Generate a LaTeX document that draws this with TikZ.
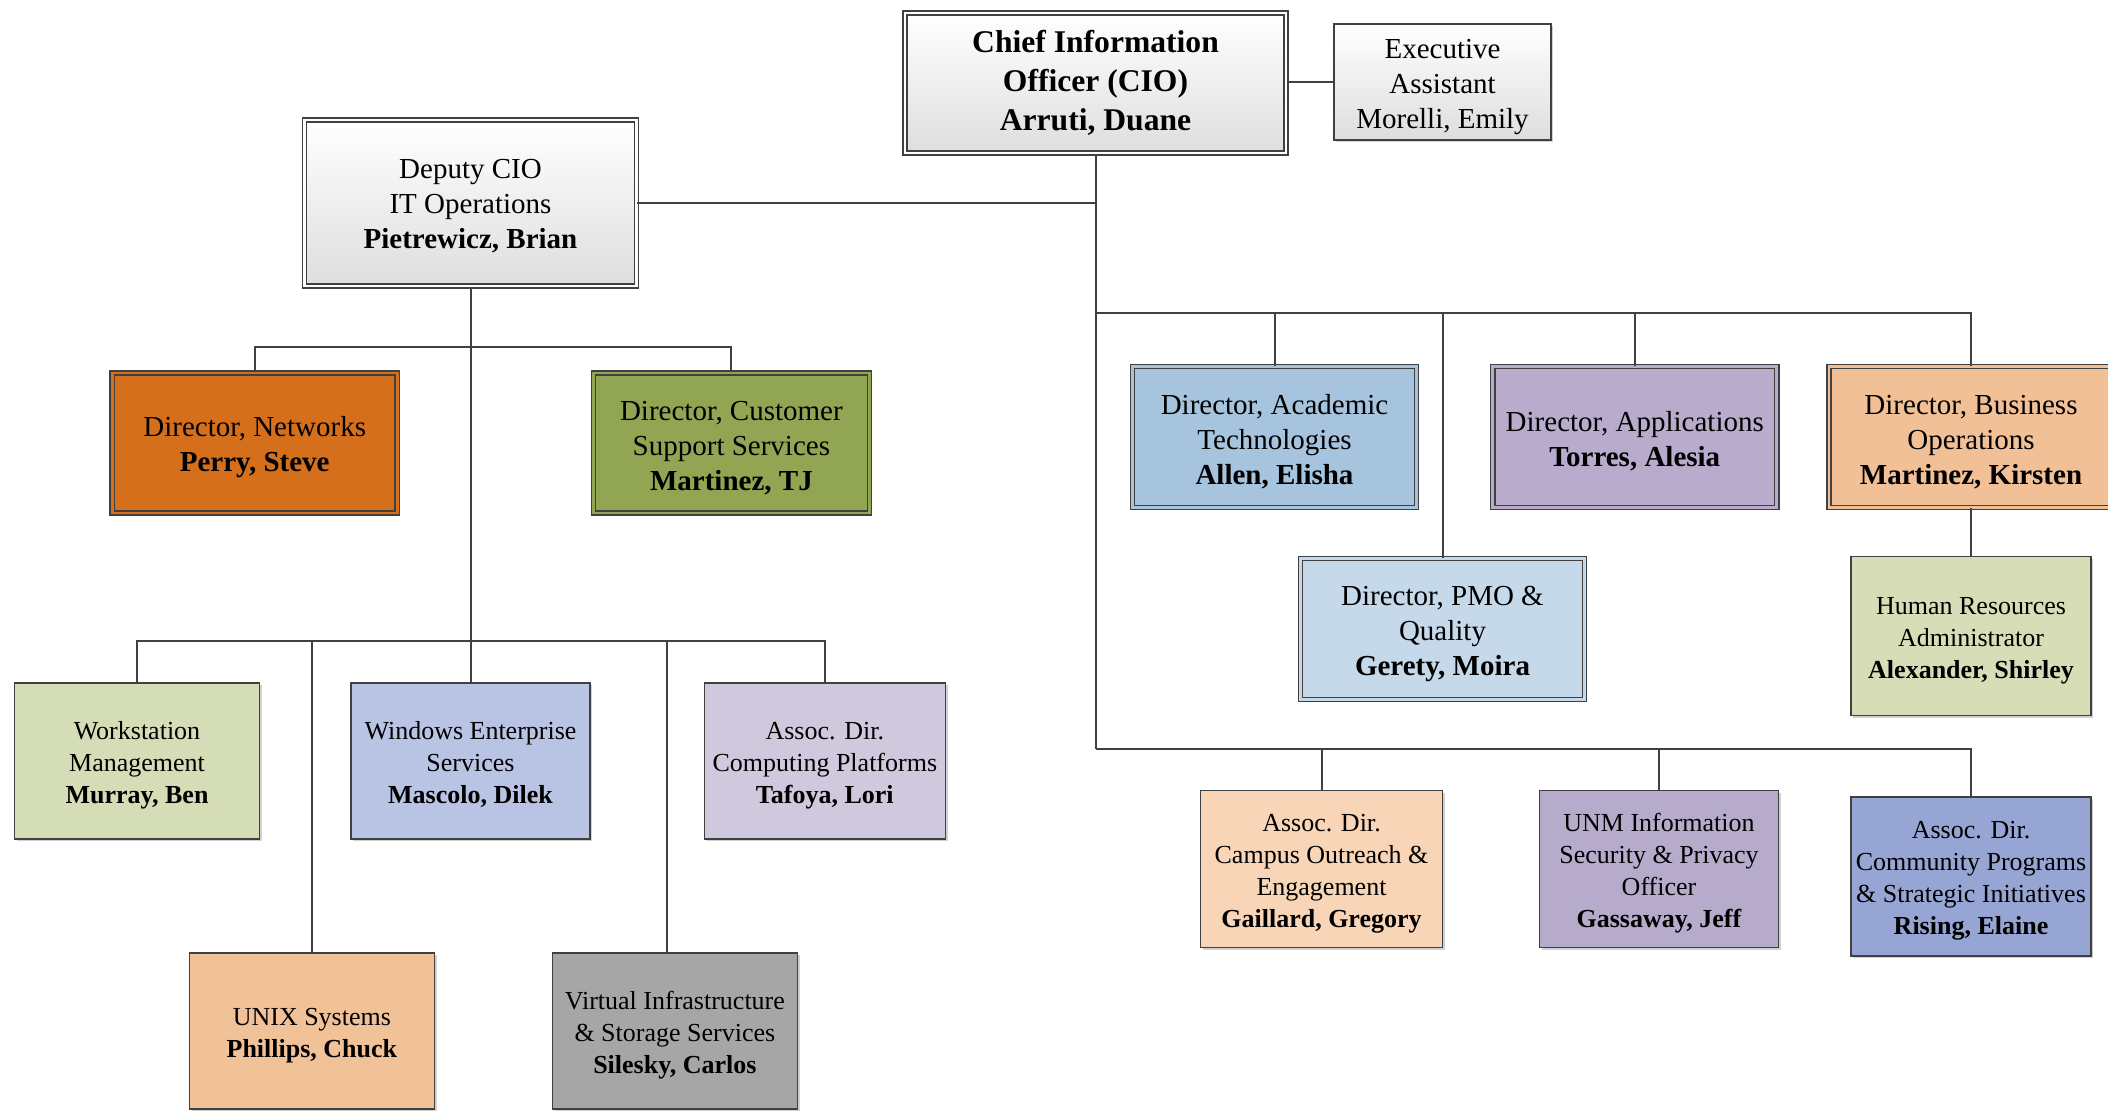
\documentclass[tikz,border=0pt]{standalone}
\usepackage{fontspec}
\setmainfont{Liberation Serif}
\usetikzlibrary{shadows}
\definecolor{ln}{HTML}{404040}
\definecolor{cNet}{HTML}{D56F1C}
\definecolor{cCust}{HTML}{92A552}
\definecolor{cAcad}{HTML}{A6C4DE}
\definecolor{cPmo}{HTML}{C6D9EA}
\definecolor{cApp}{HTML}{B8ABCC}
\definecolor{cBus}{HTML}{F2C096}
\definecolor{cHr}{HTML}{D7DDB6}
\definecolor{cOut}{HTML}{F7D5B6}
\definecolor{cSec}{HTML}{B7ABCC}
\definecolor{cComm}{HTML}{96A5D3}
\definecolor{cWork}{HTML}{D5DDB6}
\definecolor{cWin}{HTML}{B9C3E3}
\definecolor{cComp}{HTML}{D0C9DE}
\definecolor{cUnix}{HTML}{F1C198}
\definecolor{cVirt}{HTML}{A6A6A6}
\newcommand\myst[1][1em]{\rule{0pt}{#1}}
\begin{document}
\begin{tikzpicture}[x=0.5pt,y=-0.5pt,
  base/.style={rectangle, inner sep=0pt, align=center, draw=ln, line width=0.7pt,
    drop shadow={shadow xshift=1.2pt, shadow yshift=-1.2pt, opacity=0.3, fill=black!60}},
  dbl/.style={base, double=#1, double distance=1.4pt, fill=#1},
  sgl/.style={base, fill=#1},
  sz/.style 2 args={minimum width=#1*0.5pt, minimum height=#2*0.5pt},
  grad/.style={top color=white, bottom color=black!13},
  topf/.style={font=\fontsize{14.5}{17.5}\selectfont},
  lowf/.style={font=\fontsize{13}{16}\selectfont},
  ciof/.style={font=\fontsize{15.8}{19.5}\selectfont\bfseries},
  wire/.style={draw=ln, line width=1pt}
]
\useasboundingbox (0,0) rectangle (2108,1111);
\clip (0,0) rectangle (2108,1111);

% top level
\node[dbl=white, grad, sz={381}{140}, ciof] (cio) at (1095.5,83)
  {Chief Information\\Officer (CIO)\\Arruti, Duane};
\node[sgl=white, grad, sz={217}{116}, topf] (exec) at (1442.5,82)
  {\myst Executive\\Assistant\\Morelli, Emily};
\node[dbl=white, grad, sz={332}{166}, topf] (dep) at (470.5,203)
  {\myst[0.85em]Deputy CIO\\IT Operations\\\textbf{Pietrewicz, Brian}};

% right side directors
\node[dbl=cAcad, sz={284}{141}, topf] (acad) at (1274.5,437)
  {\myst Director, Academic\\Technologies\\\textbf{Allen, Elisha}};
\node[dbl=cPmo, sz={284}{141}, topf] (pmo) at (1442.5,629)
  {\myst Director, PMO \&\\Quality\\\textbf{Gerety, Moira}};
\node[dbl=cApp, sz={284}{141}, topf] (app) at (1634.8,437)
  {\myst Director, Applications\\\textbf{Torres, Alesia}};
\node[dbl=cBus, sz={284}{141}, topf] (bus) at (1971,437)
  {\myst Director, Business\\Operations\\\textbf{Martinez, Kirsten}};
\node[sgl=cHr, sz={240}{159}, lowf] (hr) at (1971,636)
  {\myst Human Resources\\Administrator\\\textbf{Alexander, Shirley}};
\node[sgl=cOut, sz={242}{157}, lowf] (out) at (1321.5,869)
  {\myst Assoc. Dir.\\Campus Outreach \&\\Engagement\\\textbf{Gaillard, Gregory}};
\node[sgl=cSec, sz={239}{157}, lowf] (sec) at (1659,869)
  {\myst UNM Information\\Security \& Privacy\\Officer\\\textbf{Gassaway, Jeff}};
\node[sgl=cComm, sz={240}{159}, lowf] (comm) at (1971,876.5)
  {\myst Assoc. Dir.\\Community Programs\\\& Strategic Initiatives\\\textbf{Rising, Elaine}};

% left side
\node[dbl=cNet, sz={285}{140}, topf] (net) at (254.7,443)
  {\myst Director, Networks\\\textbf{Perry, Steve}};
\node[dbl=cCust, sz={276}{140}, topf] (cust) at (731.4,443)
  {\myst Director, Customer\\Support Services\\\textbf{Martinez, TJ}};
\node[sgl=cWork, sz={245}{156}, lowf] (work) at (137,761)
  {\myst Workstation\\Management\\\textbf{Murray, Ben}};
\node[sgl=cWin, sz={239}{156}, lowf] (win) at (470.5,761)
  {\myst Windows Enterprise\\Services\\\textbf{Mascolo, Dilek}};
\node[sgl=cComp, sz={241}{156}, lowf] (comp) at (824.8,761)
  {\myst Assoc. Dir.\\Computing Platforms\\\textbf{Tafoya, Lori}};
\node[sgl=cUnix, sz={245}{156}, lowf] (unix) at (311.9,1031)
  {\myst UNIX Systems\\\textbf{Phillips, Chuck}};
\node[sgl=cVirt, sz={245}{156}, lowf] (virt) at (674.9,1031)
  {\myst Virtual Infrastructure\\\& Storage Services\\\textbf{Silesky, Carlos}};

% bus coordinates
\coordinate (rb1) at (1095.5,313);
\coordinate (rb2) at (1095.5,749);
\coordinate (lb1) at (470.5,347);
\coordinate (lb2) at (470.5,641);
\coordinate (vdrop) at (667,1031);

% connectors right
\draw[wire] (exec.west) -- (exec.west -| cio.east);
\draw[wire] (cio.south) -- (rb2);
\draw[wire] (dep.east) -- (dep.east -| cio.south);
\draw[wire] (rb1) -| (bus.north);
\draw[wire] (acad.north) -- (acad.north |- rb1);
\draw[wire] (pmo.north) -- (pmo.north |- rb1);
\draw[wire] (app.north) -- (app.north |- rb1);
\draw[wire] (bus.south) -- (hr.north);
\draw[wire] (rb2) -| (comm.north);
\draw[wire] (out.north) -- (out.north |- rb2);
\draw[wire] (sec.north) -- (sec.north |- rb2);

% connectors left
\draw[wire] (dep.south) -- (lb2);
\draw[wire] (net.north) |- (lb1) -| (cust.north);
\draw[wire] (work.north) |- (lb2) -| (comp.north);
\draw[wire] (win.north) -- (win.north |- lb2);
\draw[wire] (unix.north) -- (unix.north |- lb2);
\draw[wire] (vdrop |- virt.north) -- (vdrop |- lb2);
\end{tikzpicture}
\end{document}
